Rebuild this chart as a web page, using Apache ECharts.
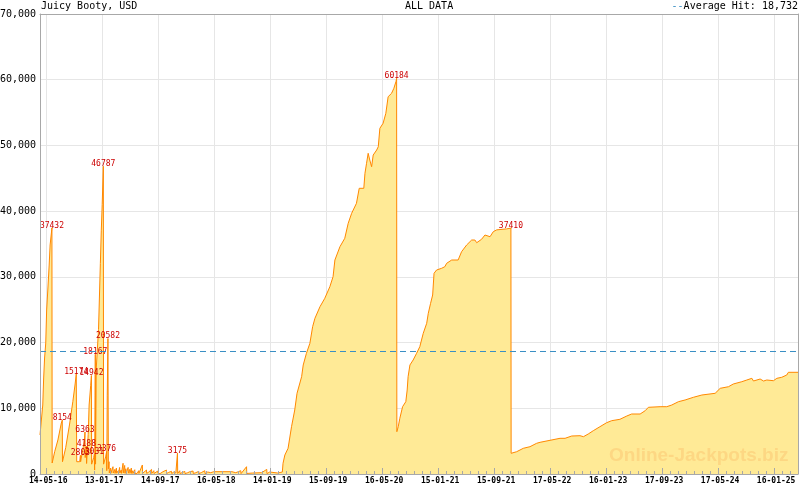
<!DOCTYPE html>
<html><head><meta charset="utf-8">
<script src="https://cdn.jsdelivr.net/npm/echarts@6/dist/echarts.min.js"></script>
<style>html,body{margin:0;padding:0;background:#fff}#c{width:800px;height:490px}</style>
</head><body><div id="c"></div>
<script>
// ---- data (x = days since 14-05-2016) ----
const chartTitle = 'Juicy Booty, USD';
const rangeTitle = 'ALL DATA';
const averageHit = 18732;
const watermark = 'Online-Jackpots.biz';

const xTickDays   = [0, 244, 488, 732, 976, 1220, 1464, 1708, 1952, 2196, 2440, 2684, 2928, 3172];
const xTickLabels = ['14-05-16','13-01-17','14-09-17','16-05-18','14-01-19','15-09-19','16-05-20',
                     '15-01-21','15-09-21','17-05-22','16-01-23','17-09-23','17-05-24','16-01-25'];

// early network jackpots
const earlyDays   = [-27,-21,-15,-11,-7,-2,2,7,13,17, 25,26,37,51,66,70,71,85,102,116,
                     126,131,133,146,149,150,166,169,170,175, 176,183,187,194,197,198,207,210,211,213,
                     214,215,218,228,236,240,244,249,250,259, 263,264,266,269,271];
const earlyValues = [5935,8217,10500,14610,17650,19930,24960,28000,31800,34850, 37432,1670,3393,5174,7761,8154,1870,4000,7600,11000,
                     13700,15174,1870,1870,2803,1870,5000,6363,2500,4188, 1600,6000,10500,13500,14942,1500,2500,3031,600,12000,
                     18167,1500,16000,22000,32000,37000,41000,46787,1500,2600, 3376,500,12000,20582,800];

// small hits period
const smallDays   = [274,275,281,282,291,292,299,300,306,307,314,315,320,321,327,328,335,336,342,343,
                     347,348,357,358,364,365,371,372,377,378,386,387,395,396,403,404,410,411,419,420,
                     427,428,437,438,447,448,459,460,469,470,476,477,486,487,495,496,509,510,524,525,
                     534,535,546,547,556,557,565,566,572,573,582,583,595,596,604,605,617,618,626,627,
                     640,641,652,653,665,666,678,679,691,692,704,705,717,718,730,731,809,810,826,827,
                     848,849,873,874,900,901,939,940,961,962,974,975,1009,1010];
const smallValues = [1870,150,900,120,1110,150,700,100,900,120,500,100,1000,150,600,100,1630,150,1300,120,
                     800,100,1000,120,700,100,900,100,500,80,650,100,400,80,500,90,350,80,1370,100,
                     400,80,600,90,300,70,700,90,500,80,250,60,450,80,300,60,350,70,600,80,
                     250,60,400,70,300,60,150,50,3175,80,500,70,250,60,400,60,200,50,350,60,
                     450,70,200,50,400,60,250,50,500,60,300,50,200,40,350,50,350,50,200,40,
                     500,60,1110,80,150,40,200,40,700,60,300,50,150,40];

// first big run up to 60184
const run1Days   = [1029,1032,1040,1054,1069,1083,1093,1113,1120,1134,1149,1161,1171,1193,1214,1236,1250,1258,1280,1301,
                    1316,1331,1352,1364,1384,1389,1396,1403,1410,1418,1425,1432,1440,1447,1454,1468,1480,1490,1505,1515,
                    1524,1527];
const run1Values = [300,1628,2891,3911,7198,9739,12280,14806,16587,18367,19889,22415,23693,25458,26736,28502,30023,32564,34589,35867,
                    38149,39671,41193,43475,43475,45757,47279,48801,47781,46762,48542,48284,49303,49806,52606,53367,54888,57414,57932,58693,
                    59697,60184];

// second run up to 37410
const run2Days   = [1528,1534,1541,1553,1567,1573,1577,1585,1599,1614,1628,1643,1658,1665,1675,1684,1690,1701,1723,1737,
                    1745,1767,1795,1810,1832,1854,1868,1876,1897,1912,1934,1948,1963,2006,2025];
const run2Values = [6437,7198,8476,10241,11002,12782,14806,16587,17347,18367,19371,21410,22932,24454,25976,27238,30541,31043,31302,31545,
                    32062,32564,32564,33827,34847,35608,35608,35197,35714,36369,36110,36871,37150,37300,37410];

// current run
const run3Days   = [2026,2050,2079,2108,2137,2152,2239,2261,2290,2326,2341,2362,2384,2413,2442,2464,2500,2530,2551,2588,
                    2610,2624,2675,2704,2726,2755,2784,2820,2857,2915,2937,2973,2994,3031,3053,3075,3082,3111,3126,3140,
                    3169,3184,3191,3205,3227,3234,3276];
const run3Values = [3150,3393,3911,4154,4672,4824,5432,5432,5782,5828,5676,6087,6589,7198,7806,8111,8324,8826,9130,9130,
                    9632,10150,10241,10241,10500,11002,11261,11671,12021,12280,13041,13284,13695,14045,14304,14563,14152,14456,14152,14304,
                    14198,14563,14304,14715,15065,15476,15476];

// points whose hit value is printed
const labelledDays = [25, 70, 131, 149, 169, 175, 197, 210, 214, 249, 263, 269, 572, 1527, 2025];

// ---- build ----
const X_MIN = -27, X_MAX = 3276;
const allDays = [].concat(earlyDays, smallDays, run1Days, run2Days, run3Days);
const allValues = [].concat(earlyValues, smallValues, run1Values, run2Values, run3Values);
const labelStyle = {show:true, position:'top', distance:-2, color:'#cc0000',
  fontFamily:'DejaVu Sans Mono', fontSize:8, formatter: p => String(p.value[1])};
const seriesData = allDays.map((d, i) => {
  if (labelledDays.indexOf(d) >= 0) {
    return {value:[d, allValues[i]], symbol:'circle', symbolSize:1, label: labelStyle};
  }
  return [d, allValues[i]];
});

const minorTicks = [];
for (let k = 0; k * 244 / 7 <= X_MAX; k++) { if (k % 7) minorTicks.push(k * 244 / 7); }

const mono = 'DejaVu Sans Mono';
const gridCol = '#e6e6e6', axisCol = '#a8a8a8';
const hidden = {axisLabel:{show:false}, splitLine:{show:false}};

const chart = echarts.init(document.getElementById('c'), null, {renderer:'canvas', width:800, height:490});
chart.setOption({
  animation:false,
  backgroundColor:'#ffffff',
  grid:{left:40, right:2, top:14, bottom:16, containLabel:false, outerBoundsMode:'none'},
  xAxis:[
    {type:'value', min:X_MIN, max:X_MAX, position:'bottom',
     axisLine:{show:false, onZero:false},
     axisTick:{show:false, customValues:xTickDays},
     axisLabel:{customValues:xTickDays, formatter:v => xTickLabels[xTickDays.indexOf(Math.round(v))] || '',
       fontFamily:mono, fontWeight:'bold', fontSize:8, color:'#000', margin:3, padding:[0,0,0,4]},
     splitLine:{show:true, lineStyle:{color:gridCol, width:1}}},
    Object.assign({type:'value', min:X_MIN, max:X_MAX, position:'bottom', z:10,
     axisLine:{show:true, onZero:false, lineStyle:{color:axisCol}},
     axisTick:{show:true, inside:true, length:6, customValues:xTickDays, lineStyle:{color:axisCol}}}, hidden),
    Object.assign({type:'value', min:X_MIN, max:X_MAX, position:'bottom', z:10,
     axisLine:{show:false, onZero:false},
     axisTick:{show:true, inside:true, length:3, customValues:minorTicks, lineStyle:{color:axisCol}}}, hidden),
    Object.assign({type:'value', min:X_MIN, max:X_MAX, position:'top', z:10,
     axisLine:{show:true, onZero:false, lineStyle:{color:axisCol}}, axisTick:{show:false}}, hidden)
  ],
  yAxis:[
    {type:'value', min:0, max:70000, interval:10000, position:'left',
     axisLine:{show:false, onZero:false}, axisTick:{show:false},
     axisLabel:{formatter:v => v.toLocaleString('en-US'), fontFamily:mono, fontSize:10, color:'#000', margin:4},
     splitLine:{show:true, lineStyle:{color:gridCol, width:1}}},
    Object.assign({type:'value', min:0, max:70000, position:'left', z:10,
     axisLine:{show:true, onZero:false, lineStyle:{color:axisCol}}, axisTick:{show:false}}, hidden),
    Object.assign({type:'value', min:0, max:70000, position:'right', z:10,
     axisLine:{show:true, onZero:false, lineStyle:{color:axisCol}}, axisTick:{show:false}}, hidden)
  ],
  series:[{
    type:'line', xAxisIndex:0, yAxisIndex:0, data:seriesData,
    symbol:'none', showSymbol:true, color:'#ff8800', itemStyle:{color:'#ff8800'},
    lineStyle:{color:'#ff8800', width:1},
    areaStyle:{color:'#ffea96', opacity:1},
    emphasis:{disabled:true},
    markLine:{silent:true, symbol:['none','none'], label:{show:false},
      lineStyle:{color:'#3a8fc4', type:[6,4], width:1}, data:[{yAxis:averageHit}]}
  }],
  graphic:[
    {type:'text', left:41, top:1, z:20, style:{text:chartTitle, font:'10px "DejaVu Sans Mono"', fill:'#000'}},
    {type:'text', left:405, top:1, z:20, style:{text:rangeTitle, font:'10px "DejaVu Sans Mono"', fill:'#000'}},
    {type:'text', right:2, top:1, z:20, style:{text:'{d|--}Average Hit: ' + averageHit.toLocaleString('en-US'),
      font:'10px "DejaVu Sans Mono"', fill:'#000', rich:{d:{fill:'#3a8fc4', font:'10px "DejaVu Sans Mono"'}}}},
    {type:'text', left:609, top:446, z:20, style:{text:watermark, font:'bold 19px "Liberation Sans"', fill:'#fdd783'}}
  ]
});
</script></body></html>
